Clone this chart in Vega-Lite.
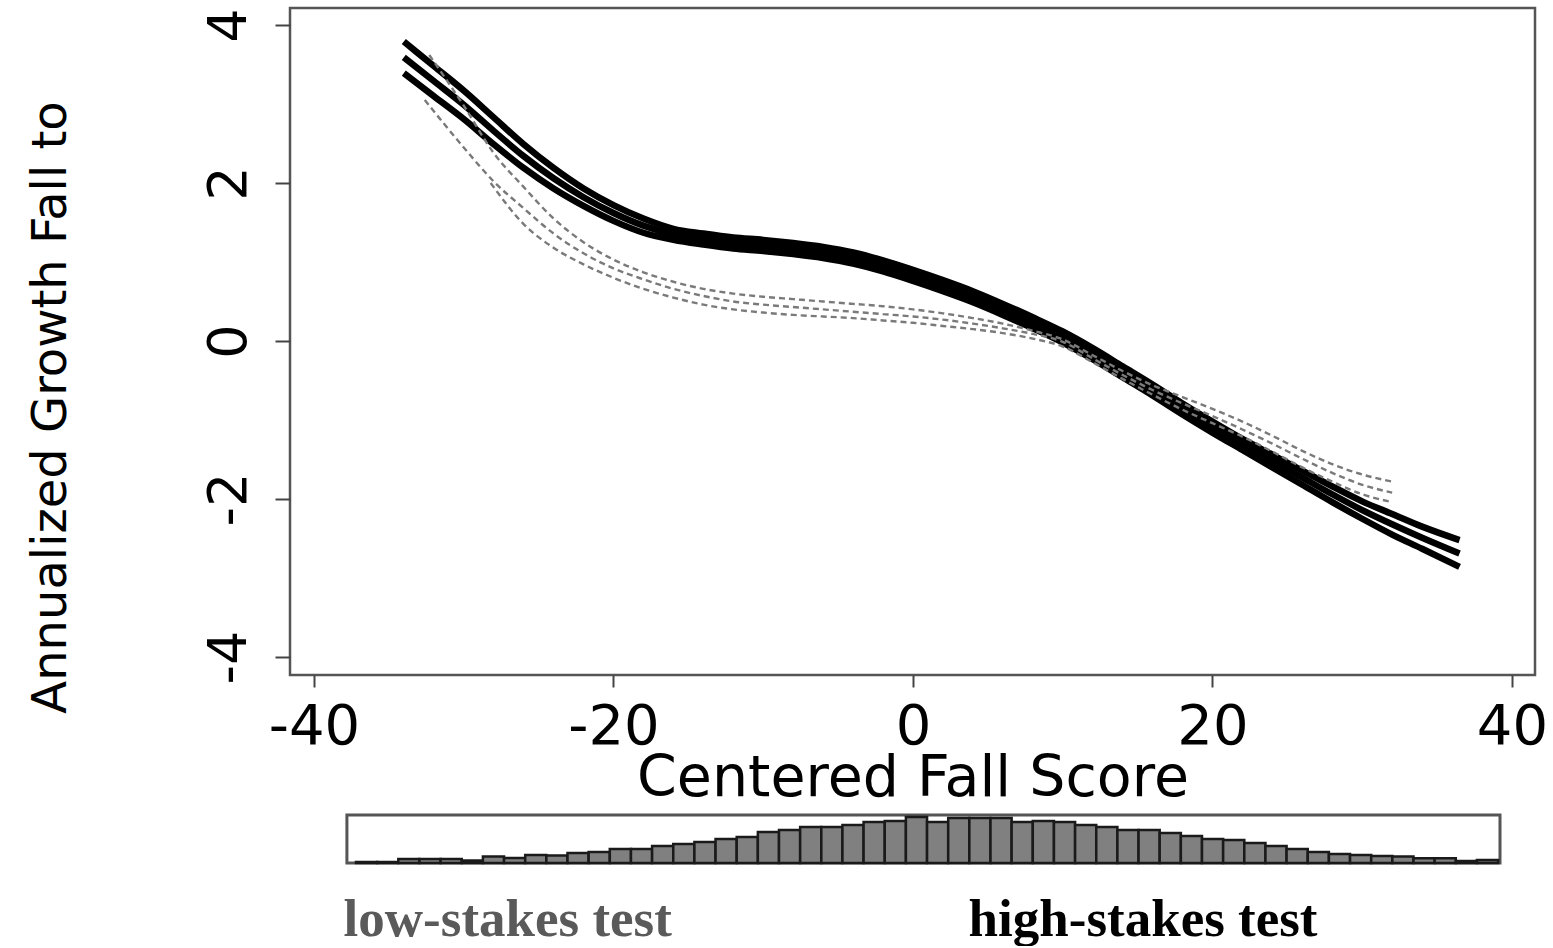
{
  "$schema": "https://vega.github.io/schema/vega-lite/v6.json",
  "background": "white",
  "autosize": {"type": "pad"},
  "padding": {"left": 25, "top": 6, "right": 0, "bottom": 0},
  "bounds": "flush",
  "spacing": 140,
  "config": {
    "view": {"stroke": null},
    "axis": {"labelFont": "DejaVu Sans", "titleFont": "DejaVu Sans", "grid": false, "labelColor": "black", "titleColor": "black"}
  },
  "datasets": {
    "curves": [
      {"c": "hu", "x": -34, "y": 3.79}, {"c": "hu", "x": -32, "y": 3.48}, {"c": "hu", "x": -30, "y": 3.17}, {"c": "hu", "x": -28, "y": 2.83}, {"c": "hu", "x": -26, "y": 2.49}, {"c": "hu", "x": -24, "y": 2.19}, {"c": "hu", "x": -22, "y": 1.93}, {"c": "hu", "x": -20, "y": 1.72}, {"c": "hu", "x": -18, "y": 1.55}, {"c": "hu", "x": -16, "y": 1.42}, {"c": "hu", "x": -14, "y": 1.36}, {"c": "hu", "x": -12, "y": 1.31}, {"c": "hu", "x": -10, "y": 1.28}, {"c": "hu", "x": -8, "y": 1.24}, {"c": "hu", "x": -6, "y": 1.19}, {"c": "hu", "x": -4, "y": 1.12}, {"c": "hu", "x": -2, "y": 1.02}, {"c": "hu", "x": 0, "y": 0.90}, {"c": "hu", "x": 2, "y": 0.77}, {"c": "hu", "x": 4, "y": 0.63}, {"c": "hu", "x": 6, "y": 0.47}, {"c": "hu", "x": 8, "y": 0.30}, {"c": "hu", "x": 10, "y": 0.12}, {"c": "hu", "x": 12, "y": -0.09}, {"c": "hu", "x": 14, "y": -0.32}, {"c": "hu", "x": 16, "y": -0.55}, {"c": "hu", "x": 18, "y": -0.79}, {"c": "hu", "x": 20, "y": -1.02}, {"c": "hu", "x": 22, "y": -1.24}, {"c": "hu", "x": 24, "y": -1.44}, {"c": "hu", "x": 26, "y": -1.64}, {"c": "hu", "x": 28, "y": -1.84}, {"c": "hu", "x": 30, "y": -2.03}, {"c": "hu", "x": 32, "y": -2.19}, {"c": "hu", "x": 34, "y": -2.35}, {"c": "hu", "x": 36.5, "y": -2.52},
      {"c": "hm", "x": -34, "y": 3.59}, {"c": "hm", "x": -32, "y": 3.29}, {"c": "hm", "x": -30, "y": 2.99}, {"c": "hm", "x": -28, "y": 2.66}, {"c": "hm", "x": -26, "y": 2.34}, {"c": "hm", "x": -24, "y": 2.06}, {"c": "hm", "x": -22, "y": 1.82}, {"c": "hm", "x": -20, "y": 1.62}, {"c": "hm", "x": -18, "y": 1.46}, {"c": "hm", "x": -16, "y": 1.35}, {"c": "hm", "x": -14, "y": 1.29}, {"c": "hm", "x": -12, "y": 1.24}, {"c": "hm", "x": -10, "y": 1.21}, {"c": "hm", "x": -8, "y": 1.17}, {"c": "hm", "x": -6, "y": 1.12}, {"c": "hm", "x": -4, "y": 1.05}, {"c": "hm", "x": -2, "y": 0.95}, {"c": "hm", "x": 0, "y": 0.83}, {"c": "hm", "x": 2, "y": 0.70}, {"c": "hm", "x": 4, "y": 0.56}, {"c": "hm", "x": 6, "y": 0.40}, {"c": "hm", "x": 8, "y": 0.23}, {"c": "hm", "x": 10, "y": 0.05}, {"c": "hm", "x": 12, "y": -0.16}, {"c": "hm", "x": 14, "y": -0.39}, {"c": "hm", "x": 16, "y": -0.62}, {"c": "hm", "x": 18, "y": -0.86}, {"c": "hm", "x": 20, "y": -1.09}, {"c": "hm", "x": 22, "y": -1.31}, {"c": "hm", "x": 24, "y": -1.52}, {"c": "hm", "x": 26, "y": -1.73}, {"c": "hm", "x": 28, "y": -1.94}, {"c": "hm", "x": 30, "y": -2.14}, {"c": "hm", "x": 32, "y": -2.32}, {"c": "hm", "x": 34, "y": -2.49}, {"c": "hm", "x": 36.5, "y": -2.69},
      {"c": "hl", "x": -34, "y": 3.39}, {"c": "hl", "x": -32, "y": 3.10}, {"c": "hl", "x": -30, "y": 2.81}, {"c": "hl", "x": -28, "y": 2.49}, {"c": "hl", "x": -26, "y": 2.19}, {"c": "hl", "x": -24, "y": 1.93}, {"c": "hl", "x": -22, "y": 1.71}, {"c": "hl", "x": -20, "y": 1.52}, {"c": "hl", "x": -18, "y": 1.37}, {"c": "hl", "x": -16, "y": 1.28}, {"c": "hl", "x": -14, "y": 1.22}, {"c": "hl", "x": -12, "y": 1.17}, {"c": "hl", "x": -10, "y": 1.14}, {"c": "hl", "x": -8, "y": 1.10}, {"c": "hl", "x": -6, "y": 1.05}, {"c": "hl", "x": -4, "y": 0.98}, {"c": "hl", "x": -2, "y": 0.88}, {"c": "hl", "x": 0, "y": 0.76}, {"c": "hl", "x": 2, "y": 0.63}, {"c": "hl", "x": 4, "y": 0.49}, {"c": "hl", "x": 6, "y": 0.33}, {"c": "hl", "x": 8, "y": 0.16}, {"c": "hl", "x": 10, "y": -0.02}, {"c": "hl", "x": 12, "y": -0.23}, {"c": "hl", "x": 14, "y": -0.46}, {"c": "hl", "x": 16, "y": -0.69}, {"c": "hl", "x": 18, "y": -0.93}, {"c": "hl", "x": 20, "y": -1.16}, {"c": "hl", "x": 22, "y": -1.38}, {"c": "hl", "x": 24, "y": -1.60}, {"c": "hl", "x": 26, "y": -1.82}, {"c": "hl", "x": 28, "y": -2.04}, {"c": "hl", "x": 30, "y": -2.25}, {"c": "hl", "x": 32, "y": -2.45}, {"c": "hl", "x": 34, "y": -2.63}, {"c": "hl", "x": 36.5, "y": -2.86},
      {"c": "lu", "x": -32.3, "y": 3.62}, {"c": "lu", "x": -30, "y": 2.98}, {"c": "lu", "x": -28, "y": 2.38}, {"c": "lu", "x": -26, "y": 1.95}, {"c": "lu", "x": -24, "y": 1.55}, {"c": "lu", "x": -22, "y": 1.25}, {"c": "lu", "x": -20, "y": 1.03}, {"c": "lu", "x": -18, "y": 0.87}, {"c": "lu", "x": -16, "y": 0.75}, {"c": "lu", "x": -14, "y": 0.66}, {"c": "lu", "x": -12, "y": 0.60}, {"c": "lu", "x": -10, "y": 0.56}, {"c": "lu", "x": -8, "y": 0.53}, {"c": "lu", "x": -6, "y": 0.50}, {"c": "lu", "x": -4, "y": 0.47}, {"c": "lu", "x": -2, "y": 0.44}, {"c": "lu", "x": 0, "y": 0.40}, {"c": "lu", "x": 2, "y": 0.35}, {"c": "lu", "x": 4, "y": 0.29}, {"c": "lu", "x": 6, "y": 0.22}, {"c": "lu", "x": 8, "y": 0.13}, {"c": "lu", "x": 10, "y": 0.02}, {"c": "lu", "x": 12, "y": -0.18}, {"c": "lu", "x": 14, "y": -0.38}, {"c": "lu", "x": 16, "y": -0.56}, {"c": "lu", "x": 18, "y": -0.71}, {"c": "lu", "x": 20, "y": -0.86}, {"c": "lu", "x": 22, "y": -1.02}, {"c": "lu", "x": 24, "y": -1.20}, {"c": "lu", "x": 26, "y": -1.39}, {"c": "lu", "x": 28, "y": -1.56}, {"c": "lu", "x": 30, "y": -1.69}, {"c": "lu", "x": 32, "y": -1.78},
      {"c": "lm", "x": -32.6, "y": 3.05}, {"c": "lm", "x": -30, "y": 2.45}, {"c": "lm", "x": -28, "y": 2.02}, {"c": "lm", "x": -26, "y": 1.68}, {"c": "lm", "x": -24, "y": 1.36}, {"c": "lm", "x": -22, "y": 1.11}, {"c": "lm", "x": -20, "y": 0.92}, {"c": "lm", "x": -18, "y": 0.78}, {"c": "lm", "x": -16, "y": 0.66}, {"c": "lm", "x": -14, "y": 0.57}, {"c": "lm", "x": -12, "y": 0.50}, {"c": "lm", "x": -10, "y": 0.46}, {"c": "lm", "x": -8, "y": 0.43}, {"c": "lm", "x": -6, "y": 0.40}, {"c": "lm", "x": -4, "y": 0.37}, {"c": "lm", "x": -2, "y": 0.34}, {"c": "lm", "x": 0, "y": 0.31}, {"c": "lm", "x": 2, "y": 0.27}, {"c": "lm", "x": 4, "y": 0.22}, {"c": "lm", "x": 6, "y": 0.16}, {"c": "lm", "x": 8, "y": 0.09}, {"c": "lm", "x": 10, "y": -0.01}, {"c": "lm", "x": 12, "y": -0.22}, {"c": "lm", "x": 14, "y": -0.43}, {"c": "lm", "x": 16, "y": -0.62}, {"c": "lm", "x": 18, "y": -0.79}, {"c": "lm", "x": 20, "y": -0.95}, {"c": "lm", "x": 22, "y": -1.12}, {"c": "lm", "x": 24, "y": -1.30}, {"c": "lm", "x": 26, "y": -1.49}, {"c": "lm", "x": 28, "y": -1.67}, {"c": "lm", "x": 30, "y": -1.82}, {"c": "lm", "x": 32, "y": -1.92},
      {"c": "ll", "x": -28.2, "y": 2.00}, {"c": "ll", "x": -26, "y": 1.48}, {"c": "ll", "x": -24, "y": 1.18}, {"c": "ll", "x": -22, "y": 0.97}, {"c": "ll", "x": -20, "y": 0.80}, {"c": "ll", "x": -18, "y": 0.66}, {"c": "ll", "x": -16, "y": 0.55}, {"c": "ll", "x": -14, "y": 0.46}, {"c": "ll", "x": -12, "y": 0.40}, {"c": "ll", "x": -10, "y": 0.36}, {"c": "ll", "x": -8, "y": 0.33}, {"c": "ll", "x": -6, "y": 0.31}, {"c": "ll", "x": -4, "y": 0.29}, {"c": "ll", "x": -2, "y": 0.26}, {"c": "ll", "x": 0, "y": 0.23}, {"c": "ll", "x": 2, "y": 0.19}, {"c": "ll", "x": 4, "y": 0.15}, {"c": "ll", "x": 6, "y": 0.10}, {"c": "ll", "x": 8, "y": 0.03}, {"c": "ll", "x": 10, "y": -0.07}, {"c": "ll", "x": 12, "y": -0.27}, {"c": "ll", "x": 14, "y": -0.48}, {"c": "ll", "x": 16, "y": -0.68}, {"c": "ll", "x": 18, "y": -0.87}, {"c": "ll", "x": 20, "y": -1.04}, {"c": "ll", "x": 22, "y": -1.21}, {"c": "ll", "x": 24, "y": -1.40}, {"c": "ll", "x": 26, "y": -1.60}, {"c": "ll", "x": 28, "y": -1.78}, {"c": "ll", "x": 30, "y": -1.94}, {"c": "ll", "x": 32, "y": -2.04}
    ],
    "hist": [
      {"lo": 0, "hi": 1, "n": 1}, {"lo": 1, "hi": 2, "n": 1}, {"lo": 2, "hi": 3, "n": 4}, {"lo": 3, "hi": 4, "n": 4}, {"lo": 4, "hi": 5, "n": 4}, {"lo": 5, "hi": 6, "n": 2.5}, {"lo": 6, "hi": 7, "n": 6.5}, {"lo": 7, "hi": 8, "n": 5}, {"lo": 8, "hi": 9, "n": 8}, {"lo": 9, "hi": 10, "n": 7.5},
      {"lo": 10, "hi": 11, "n": 10}, {"lo": 11, "hi": 12, "n": 11}, {"lo": 12, "hi": 13, "n": 14}, {"lo": 13, "hi": 14, "n": 14}, {"lo": 14, "hi": 15, "n": 17}, {"lo": 15, "hi": 16, "n": 19}, {"lo": 16, "hi": 17, "n": 21}, {"lo": 17, "hi": 18, "n": 24}, {"lo": 18, "hi": 19, "n": 26}, {"lo": 19, "hi": 20, "n": 31},
      {"lo": 20, "hi": 21, "n": 33}, {"lo": 21, "hi": 22, "n": 36}, {"lo": 22, "hi": 23, "n": 36}, {"lo": 23, "hi": 24, "n": 38}, {"lo": 24, "hi": 25, "n": 41}, {"lo": 25, "hi": 26, "n": 42}, {"lo": 26, "hi": 27, "n": 46}, {"lo": 27, "hi": 28, "n": 41}, {"lo": 28, "hi": 29, "n": 45}, {"lo": 29, "hi": 30, "n": 45},
      {"lo": 30, "hi": 31, "n": 45}, {"lo": 31, "hi": 32, "n": 41}, {"lo": 32, "hi": 33, "n": 42}, {"lo": 33, "hi": 34, "n": 41}, {"lo": 34, "hi": 35, "n": 38}, {"lo": 35, "hi": 36, "n": 36}, {"lo": 36, "hi": 37, "n": 33}, {"lo": 37, "hi": 38, "n": 33}, {"lo": 38, "hi": 39, "n": 30}, {"lo": 39, "hi": 40, "n": 27},
      {"lo": 40, "hi": 41, "n": 24}, {"lo": 41, "hi": 42, "n": 23}, {"lo": 42, "hi": 43, "n": 20}, {"lo": 43, "hi": 44, "n": 17}, {"lo": 44, "hi": 45, "n": 14}, {"lo": 45, "hi": 46, "n": 11}, {"lo": 46, "hi": 47, "n": 9}, {"lo": 47, "hi": 48, "n": 8}, {"lo": 48, "hi": 49, "n": 7}, {"lo": 49, "hi": 50, "n": 6.5},
      {"lo": 50, "hi": 51, "n": 4.7}, {"lo": 51, "hi": 52, "n": 4.7}, {"lo": 52, "hi": 53, "n": 2}, {"lo": 53, "hi": 54, "n": 3}
    ],
    "frame": [{"lo": -0.43, "hi": 54.09, "top": 48}]
  },
  "vconcat": [
    {
      "width": 1245,
      "height": 667,
      "view": {"stroke": "#555", "strokeWidth": 2.5},
      "data": {"name": "curves"},
      "encoding": {
        "x": {
          "field": "x", "type": "quantitative",
          "scale": {"domain": [-41.6, 41.54], "nice": false, "zero": false},
          "axis": {
            "values": [-40, -20, 0, 20, 40],
            "labelExpr": "datum.value + ''",
            "title": "Centered Fall Score",
            "titleFontSize": 57, "titleFontWeight": "normal",
            "titleY": 120, "titleBaseline": "alphabetic",
            "labelFontSize": 56, "labelBaseline": "alphabetic", "labelPadding": 56,
            "tickSize": 12, "tickWidth": 2, "tickColor": "#444",
            "domain": false, "labelFlush": false, "labelOverlap": false, "labelBound": false
          }
        },
        "y": {
          "field": "y", "type": "quantitative",
          "scale": {"domain": [-4.228, 4.215], "nice": false, "zero": false},
          "axis": {
            "values": [-4, -2, 0, 2, 4],
            "labelExpr": "datum.value + ''",
            "title": "Annualized Growth Fall to",
            "titleFontSize": 48, "titleFontWeight": "normal",
            "titleX": -225, "titleY": 399, "titleAngle": 270,
            "titleAlign": "center", "titleBaseline": "alphabetic",
            "labelAngle": 270, "labelAlign": "center", "labelBaseline": "alphabetic",
            "labelFontSize": 54, "labelPadding": 30,
            "tickSize": 15, "tickWidth": 2, "tickColor": "#444",
            "domain": false, "labelFlush": false, "labelOverlap": false
          }
        },
        "detail": {"field": "c", "type": "nominal"}
      },
      "layer": [
        {
          "transform": [{"filter": {"field": "c", "oneOf": ["hu", "hm", "hl"]}}],
          "mark": {"type": "line", "color": "black", "strokeWidth": 6.5, "interpolate": "monotone"}
        },
        {
          "transform": [{"filter": {"field": "c", "oneOf": ["lu", "lm", "ll"]}}],
          "mark": {"type": "line", "color": "#7a7a7a", "strokeWidth": 2.4, "strokeDash": [6, 4], "interpolate": "monotone"}
        }
      ]
    },
    {
      "width": 1245,
      "height": 48,
      "layer": [
        {
          "data": {"name": "frame"},
          "mark": {"type": "rect", "fill": "white", "stroke": "#555", "strokeWidth": 3},
          "encoding": {
            "x": {
              "field": "lo", "type": "quantitative",
              "scale": {"domain": [-3.121, 55.745], "nice": false, "zero": false},
              "axis": {
                "values": [-0.61, 28.94],
                "labelExpr": "datum.value < 10 ? 'low-stakes test' : 'high-stakes test'",
                "labelAlign": "left", "labelBaseline": "alphabetic",
                "labelFont": "Liberation Serif", "labelFontWeight": "bold", "labelFontSize": 53,
                "labelPadding": 72, "labelLimit": 0,
                "labelColor": {"condition": {"test": "datum.value < 10", "value": "#5a5a5a"}, "value": "black"},
                "ticks": false, "tickSize": 0, "domain": false, "title": null,
                "labelOverlap": false, "labelBound": false, "labelFlush": false
              }
            },
            "x2": {"field": "hi"},
            "y": {"field": "top", "type": "quantitative", "scale": {"domain": [0, 48], "nice": false}, "axis": null},
            "y2": {"datum": 0}
          }
        },
        {
          "data": {"name": "hist"},
          "mark": {"type": "bar", "fill": "#808080", "stroke": "#1a1a1a", "strokeWidth": 2.5},
          "encoding": {
            "x": {"field": "lo", "type": "quantitative"},
            "x2": {"field": "hi"},
            "y": {"field": "n", "type": "quantitative"},
            "y2": {"datum": 0}
          }
        }
      ]
    }
  ]
}
